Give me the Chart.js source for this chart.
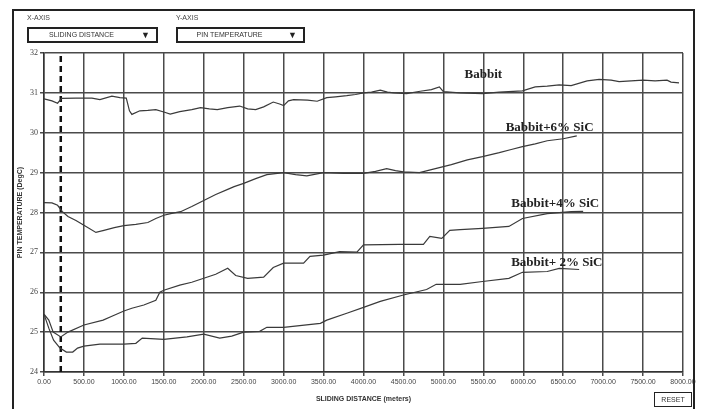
<!DOCTYPE html>
<html>
<head>
<meta charset="utf-8">
<script src="https://cdn.jsdelivr.net/npm/chart.js@4"></script>
<style>
    body { margin: 0; background: #fff; }
    #wrap { position: relative; width: 703px; height: 409px; overflow: hidden; background: #fff; }
    #chart { position: absolute; left: 0; top: 0; }
    .frame { position: absolute; left: 12px; top: 9px; width: 679px; height: 420px;
             border-left: 2px solid #222; border-top: 2px solid #222; border-right: 2px solid #222; }
    .cap { position: absolute; font: 7px "Liberation Sans", sans-serif; color: #444; }
    .box { position: absolute; height: 12px; border: 2px solid #222; background: #fff;
           font: 7px "Liberation Sans", sans-serif; color: #333; line-height: 12px; }
    .box span.t { position: absolute; left: 0; right: 22px; text-align: center; }
    .box span.a { position: absolute; right: 6px; top: 0; font-size: 9px; color: #222; }
    .reset { position: absolute; left: 654px; top: 392px; width: 36px; height: 13px; border: 1.5px solid #222;
             font: 7px "Liberation Sans", sans-serif; color: #333; text-align: center; line-height: 13px; }
</style>
</head>
<body>
<div id="wrap">
    <canvas id="chart" width="703" height="409"></canvas>
    <div class="frame"></div>
    <div class="cap" style="left:27px;top:14px;">X-AXIS</div>
    <div class="box" style="left:27px;top:27px;width:127px;"><span class="t">SLIDING DISTANCE</span><span class="a">&#9660;</span></div>
    <div class="cap" style="left:176px;top:14px;">Y-AXIS</div>
    <div class="box" style="left:176px;top:27px;width:125px;"><span class="t">PIN TEMPERATURE</span><span class="a">&#9660;</span></div>
    <div class="reset">RESET</div>
</div>
<script>
// sliding distance (m) / pin temperature (degC)
const babbitDist = [0, 100, 170, 220, 400, 600, 700, 850, 950, 1030, 1070, 1100, 1200, 1300, 1400, 1500, 1580, 1700, 1850, 1960, 2070, 2170, 2300, 2450, 2550, 2650, 2750, 2870, 2950, 3000, 3060, 3125, 3300, 3420, 3540, 3650, 3790, 3900, 4000, 4100, 4210, 4300, 4380, 4540, 4710, 4850, 4950, 5000, 5200, 5490, 5700, 5990, 6150, 6300, 6450, 6600, 6800, 6950, 7100, 7200, 7350, 7500, 7650, 7800, 7850, 7950];
const babbitTemp = [30.85, 30.8, 30.74, 30.86, 30.87, 30.87, 30.83, 30.92, 30.88, 30.87, 30.55, 30.46, 30.55, 30.56, 30.58, 30.52, 30.47, 30.53, 30.58, 30.63, 30.6, 30.58, 30.63, 30.67, 30.6, 30.58, 30.65, 30.77, 30.72, 30.68, 30.8, 30.83, 30.82, 30.79, 30.88, 30.9, 30.93, 30.96, 31.0, 31.02, 31.07, 31.02, 31.0, 30.98, 31.04, 31.08, 31.15, 31.03, 31.0, 30.98, 31.02, 31.05, 31.15, 31.17, 31.2, 31.18, 31.3, 31.34, 31.32, 31.28, 31.3, 31.32, 31.3, 31.32, 31.27, 31.25];

const sic6Dist = [0, 100, 170, 230, 300, 400, 500, 650, 750, 880, 1000, 1150, 1300, 1400, 1500, 1600, 1710, 1850, 2000, 2150, 2300, 2380, 2500, 2650, 2790, 3000, 3150, 3290, 3500, 3750, 4000, 4150, 4290, 4400, 4500, 4700, 4900, 5100, 5300, 5490, 5700, 5850, 5990, 6150, 6300, 6500, 6670];
const sic6Temp = [28.25, 28.24, 28.18, 28.02, 27.9, 27.8, 27.68, 27.5, 27.55, 27.62, 27.67, 27.7, 27.75, 27.85, 27.93, 27.98, 28.02, 28.15, 28.3, 28.45, 28.58, 28.65, 28.73, 28.85, 28.95, 29.0, 28.95, 28.92, 29.0, 28.98, 28.98, 29.03, 29.1, 29.05, 29.02, 29.0, 29.1, 29.2, 29.32, 29.4, 29.5, 29.58, 29.65, 29.72, 29.8, 29.85, 29.92];

const sic4Dist = [0, 60, 115, 210, 300, 500, 740, 850, 1000, 1100, 1250, 1400, 1450, 1500, 1700, 1850, 2000, 2150, 2300, 2400, 2550, 2750, 2870, 3000, 3250, 3330, 3500, 3700, 3920, 4000, 4450, 4750, 4830, 4980, 5080, 5210, 5490, 5820, 5990, 6300, 6600, 6750];
const sic4Temp = [25.45, 25.3, 25.0, 24.88, 25.0, 25.18, 25.3, 25.4, 25.53, 25.6, 25.68, 25.8, 26.0, 26.05, 26.18, 26.25, 26.35, 26.45, 26.6, 26.42, 26.35, 26.38, 26.62, 26.73, 26.73, 26.9, 26.93, 27.02, 27.01, 27.19, 27.2, 27.2, 27.4, 27.35, 27.55, 27.57, 27.6, 27.65, 27.85, 27.97, 28.02, 28.03];

const sic2Dist = [0, 60, 120, 200, 280, 360, 420, 500, 700, 1000, 1150, 1230, 1500, 1790, 2000, 2200, 2350, 2500, 2700, 2790, 3000, 3460, 3540, 3800, 4000, 4210, 4500, 4790, 4910, 5210, 5490, 5820, 5990, 6300, 6450, 6700];
const sic2Temp = [25.45, 25.1, 24.8, 24.6, 24.5, 24.5, 24.6, 24.65, 24.7, 24.7, 24.72, 24.85, 24.82, 24.88, 24.95, 24.85, 24.9, 25.0, 25.02, 25.12, 25.12, 25.22, 25.3, 25.48, 25.62, 25.77, 25.93, 26.07, 26.2, 26.2, 26.27, 26.35, 26.5, 26.52, 26.6, 26.57];

const markerDist = [210, 210];
const markerTemp = [24, 32];

const seriesNames = ['Babbit', 'Babbit+6% SiC', 'Babbit+4% SiC', 'Babbit+ 2% SiC'];
const xTicks = [0, 500, 1000, 1500, 2000, 2500, 3000, 3500, 4000, 4500, 5000, 5500, 6000, 6500, 7000, 7500, 8000];

const pts = (xs, ys) => xs.map((x, i) => ({ x: x, y: ys[i] }));

function line(label, xs, ys) {
    return {
        label: label,
        data: pts(xs, ys),
        borderColor: '#3a3a3a',
        borderWidth: 1.2,
        pointRadius: 0,
        tension: 0,
        fill: false,
    };
}

// series names written next to the curves
const curveLabels = {
    id: 'curveLabels',
    afterDatasetsDraw(chart) {
        const { ctx, scales: { x, y } } = chart;
        const spots = [[5500, 31.45], [6330, 30.12], [6400, 28.22], [6420, 26.75]];
        ctx.save();
        ctx.font = 'bold 13px "Liberation Serif", serif';
        ctx.fillStyle = '#222';
        ctx.textAlign = 'center';
        ctx.textBaseline = 'middle';
        seriesNames.forEach((n, i) => {
            ctx.fillText(n, x.getPixelForValue(spots[i][0]), y.getPixelForValue(spots[i][1]));
        });
        ctx.restore();
    }
};

new Chart(document.getElementById('chart'), {
    type: 'line',
    data: {
        datasets: [
            line(seriesNames[0], babbitDist, babbitTemp),
            line(seriesNames[1], sic6Dist, sic6Temp),
            line(seriesNames[2], sic4Dist, sic4Temp),
            line(seriesNames[3], sic2Dist, sic2Temp),
            {
                label: 'marker',
                data: pts(markerDist, markerTemp),
                borderColor: '#111',
                borderWidth: 2.5,
                borderDash: [6, 4],
                pointRadius: 0,
            },
        ],
    },
    options: {
        responsive: false,
        animation: false,
        layout: { padding: { left: 14, top: 53, right: 20, bottom: 6 } },
        plugins: {
            legend: { display: false },
            tooltip: { enabled: false },
        },
        scales: {
            x: {
                type: 'linear',
                min: 0,
                max: 8000,
                afterBuildTicks: (s) => { s.ticks = xTicks.map(v => ({ value: v })); },
                afterFit: (s) => { s.height = 31; },
                ticks: {
                    callback: (v) => v.toFixed(2),
                    font: { size: 7, family: 'Liberation Sans' },
                    color: '#444',
                    maxRotation: 0,
                    autoSkip: false,
                    padding: 2,
                },
                grid: { color: '#4a4a4a', lineWidth: 1.5, tickLength: 4 },
                border: { color: '#333', width: 1.5 },
                title: {
                    display: true,
                    text: 'SLIDING DISTANCE (meters)',
                    font: { size: 7, weight: 'bold', family: 'Liberation Sans' },
                    color: '#333',
                    padding: { top: 2, bottom: 0 },
                },
            },
            y: {
                min: 24,
                max: 32,
                afterFit: (s) => { s.width = 30; },
                ticks: {
                    stepSize: 1,
                    font: { size: 8, family: 'Liberation Serif' },
                    color: '#444',
                    padding: 2,
                },
                grid: { color: '#4a4a4a', lineWidth: 1.5, tickLength: 4 },
                border: { color: '#333', width: 1.5 },
                title: {
                    display: true,
                    text: 'PIN TEMPERATURE (DegC)',
                    font: { size: 7, weight: 'bold', family: 'Liberation Sans' },
                    color: '#333',
                    padding: { top: 2, bottom: 2 },
                },
            },
        },
    },
    plugins: [curveLabels],
});
</script>
</body>
</html>
